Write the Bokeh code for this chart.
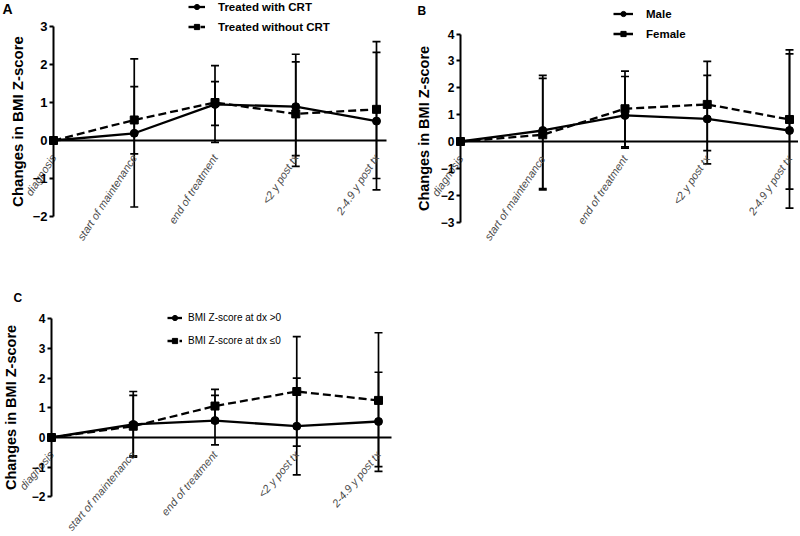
import math
from bokeh.plotting import figure
from bokeh.models import (ColumnDataSource, Whisker, TeeHead, Legend, LegendItem,
                          Label, Range1d, FixedTicker)
from bokeh.layouts import column, row
from bokeh.embed import file_html
from bokeh.resources import INLINE

categories = ["diagnosis", "start of maintenance", "end of treatment", "<2 y post tx", "2-4.9 y post tx"]

# Panel A
a_names = ["Treated with CRT", "Treated without CRT"]
a_crt = [0, 0.19, 0.95, 0.89, 0.51]
a_crt_lo = [0, -1.75, -0.05, -0.40, -1.30]
a_crt_hi = [0, 2.15, 1.97, 2.07, 2.32]
a_no = [0, 0.54, 1.00, 0.70, 0.82]
a_no_lo = [0, -0.35, 0.40, -0.68, -1.00]
a_no_hi = [0, 1.42, 1.55, 2.27, 2.60]
a_yticks = [-2, -1, 0, 1, 2, 3]

# Panel B
b_names = ["Male", "Female"]
b_male = [0, 0.41, 0.97, 0.84, 0.41]
b_male_lo = [0, -1.80, -0.25, -0.83, -2.48]
b_male_hi = [0, 2.46, 2.42, 2.46, 3.26]
b_fem = [0, 0.25, 1.22, 1.38, 0.82]
b_fem_lo = [0, -1.75, -0.20, -0.34, -1.77]
b_fem_hi = [0, 2.35, 2.62, 2.98, 3.41]
b_yticks = [-3, -2, -1, 0, 1, 2, 3, 4]

# Panel C
c_names = ["BMI Z-score at dx >0", "BMI Z-score at dx \u22640"]
c_pos = [0, 0.44, 0.57, 0.38, 0.54]
c_pos_lo = [0, -0.66, -0.25, -1.26, -1.14]
c_pos_hi = [0, 1.55, 1.42, 2.00, 2.20]
c_neg = [0, 0.38, 1.06, 1.55, 1.25]
c_neg_lo = [0, -0.62, 0.50, -0.29, -0.98]
c_neg_hi = [0, 1.42, 1.62, 3.40, 3.53]
c_yticks = [-2, -1, 0, 1, 2, 3, 4]

FONT = "Liberation Sans"
xs = list(range(len(categories)))


def make_panel(letter, W, H, ax_px, pxu_x, pxu_y, y0_px, zero_end_px, yticks, series, names,
               tick_size, label_size, label_standoff, angle_deg, xlab_standoff,
               leg_x, leg_top, leg_glyph_w, leg_standoff, leg_spacing, leg_size, leg_style,
               letter_pos, letter_size):
    x_start = -ax_px / pxu_x
    x_end = (W - ax_px) / pxu_x
    y_end = y0_px / pxu_y
    y_start = -(H - y0_px) / pxu_y
    p = figure(width=W, height=H, x_range=Range1d(x_start, x_end), y_range=Range1d(y_start, y_end),
               output_backend="svg", toolbar_location=None,
               min_border_left=0, min_border_right=0, min_border_top=0, min_border_bottom=0)
    p.xgrid.visible = False
    p.ygrid.visible = False
    p.outline_line_color = None
    p.background_fill_color = "white"
    p.border_fill_color = "white"

    # y axis drawn at x = 0 (first category)
    ay = p.yaxis[0]
    ay.fixed_location = 0
    ay.bounds = (yticks[0], yticks[-1])
    ay.ticker = FixedTicker(ticks=yticks)
    ay.axis_line_width = 2
    ay.major_tick_line_width = 2
    ay.major_tick_in = 0
    ay.major_tick_out = 4
    ay.minor_tick_line_color = None
    ay.major_label_standoff = 2
    ay.major_label_text_font = FONT
    ay.major_label_text_font_style = "bold"
    ay.major_label_text_font_size = tick_size
    ay.major_label_text_color = "black"
    ay.axis_label = "Changes in BMI Z-score"
    ay.axis_label_text_font = FONT
    ay.axis_label_text_font_style = "bold"
    ay.axis_label_text_font_size = label_size
    ay.axis_label_standoff = label_standoff
    ay.axis_label_text_color = "black"

    # x axis drawn along y = 0
    axx = p.xaxis[0]
    axx.fixed_location = 0
    axx.bounds = (0, zero_end_px / pxu_x)
    axx.ticker = FixedTicker(ticks=xs)
    axx.major_label_overrides = {i: c for i, c in zip(xs, categories)}
    axx.major_label_orientation = math.radians(angle_deg)
    axx.axis_line_width = 2
    axx.major_tick_in = 0
    axx.major_tick_out = 0
    axx.minor_tick_line_color = None
    axx.major_label_standoff = xlab_standoff
    axx.major_label_text_font = FONT
    axx.major_label_text_font_style = "italic"
    axx.major_label_text_font_size = "11px"
    axx.major_label_text_color = "#4a4a4a"

    items = []
    for (vals, lo, hi, dash, marker), name in zip(series, names):
        ws = ColumnDataSource(dict(x=xs[1:], lo=lo[1:], hi=hi[1:]))
        p.add_layout(Whisker(base="x", lower="lo", upper="hi", source=ws, dimension="height",
                             line_color="black", line_width=1.7,
                             upper_head=TeeHead(size=8, line_width=1.7, line_color="black"),
                             lower_head=TeeHead(size=8, line_width=1.7, line_color="black")))
        src = ColumnDataSource(dict(x=xs, y=vals))
        rl = p.line("x", "y", source=src, line_color="black", line_width=2.3, line_dash=dash)
        rs = p.scatter("x", "y", source=src, marker=marker, size=8, color="black")
        items.append(LegendItem(label=name, renderers=[rl, rs]))

    item_h = 13
    leg_h = 2 * item_h + leg_spacing
    legend = Legend(items=items, location=(leg_x, H - leg_top - leg_h),
                    border_line_color=None, background_fill_alpha=0,
                    padding=0, margin=0, spacing=leg_spacing,
                    glyph_width=leg_glyph_w, glyph_height=item_h, label_height=item_h,
                    label_standoff=leg_standoff,
                    label_text_font=FONT, label_text_font_size=leg_size,
                    label_text_font_style=leg_style, label_text_color="black",
                    label_text_baseline="middle")
    p.add_layout(legend)

    lx = x_start + letter_pos[0] / pxu_x
    ly = y_end - letter_pos[1] / pxu_y
    p.add_layout(Label(x=lx, y=ly, text=letter, text_align="left", text_baseline="top",
                       text_font=FONT, text_font_style="bold", text_font_size=letter_size,
                       text_color="black"))
    return p


pA = make_panel("A", 400, 263, 53, 80.75, 38.0, 140, 333, a_yticks,
                [(a_crt, a_crt_lo, a_crt_hi, "solid", "circle"),
                 (a_no, a_no_lo, a_no_hi, "8 4", "square")], a_names,
                "13px", "15px", 4, 57, 15,
                188, 0, 17, 13, 7, "11.5px", "bold",
                (2, 0), "14px")

pB = make_panel("B", 398, 263, 60, 82.25, 26.86, 141, 338, b_yticks,
                [(b_male, b_male_lo, b_male_hi, "solid", "circle"),
                 (b_fem, b_fem_lo, b_fem_hi, "8 4", "square")], b_names,
                "12px", "14.5px", 6, 56, 15,
                213, 7, 20, 13, 7, "11.5px", "bold",
                (17, 3), "12px")

pC = make_panel("C", 400, 271, 51, 81.75, 29.67, 174, 340, c_yticks,
                [(c_pos, c_pos_lo, c_pos_hi, "solid", "circle"),
                 (c_neg, c_neg_lo, c_neg_hi, "8 4", "square")], c_names,
                "12px", "14.5px", 10, 50, 15,
                167, 48, 15, 6, 10, "10px", "normal",
                (13, 27), "12px")

layout = column(row(pA, pB), pC)
open("out.html", "w").write(file_html(layout, INLINE))
